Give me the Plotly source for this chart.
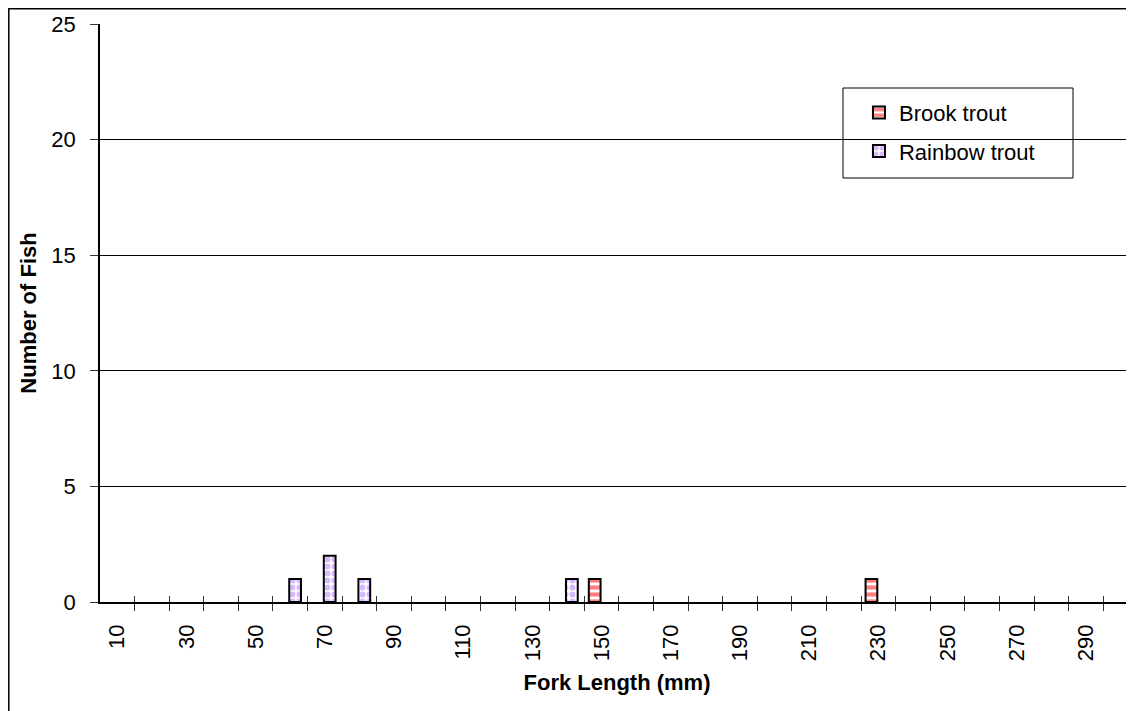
import plotly.graph_objects as go

# fork length classes (mm) and counts per species
brook_length = [150, 230]
brook_count = [1, 1]
rainbow_length = [60, 70, 80, 140]
rainbow_count = [1, 2, 1, 1]

tick_labels = [10, 30, 50, 70, 90, 110, 130, 150, 170, 190, 210, 230, 250, 270, 290]
class_edges = [15 + 10 * i for i in range(29)]
y_ticks = [0, 5, 10, 15, 20, 25]

FONT = "Liberation Sans, Arial, sans-serif"
TICK_COLOR = "#333"

fig = go.Figure()
fig.add_trace(go.Bar(
    x=brook_length, y=brook_count, name="Brook trout",
    legendgroup="a", width=3.4, offset=-3.7,
    marker=dict(color="white", line=dict(color="black", width=2),
                pattern=dict(shape="-", fgcolor="#ff0000", bgcolor="white",
                             size=7, solidity=0.6)),
))
fig.add_trace(go.Bar(
    x=rainbow_length, y=rainbow_count, name="Rainbow trout",
    legendgroup="b", width=3.4, offset=-0.3, xaxis="x2",
    marker=dict(color="white", line=dict(color="black", width=2),
                pattern=dict(shape=".", fgcolor="#b070ff", bgcolor="white",
                             size=7, solidity=0.55)),
))

x_range = [5, 303.9]

# the page body has an 8px margin, so the figure is sized to fit the window
fig.update_layout(
    width=1126, height=703,
    margin=dict(l=92, r=0, t=16, b=109),
    paper_bgcolor="white", plot_bgcolor="white",
    barmode="overlay",
    font=dict(family=FONT, size=22, color="black"),
    xaxis=dict(
        range=x_range, tickmode="array", tickvals=tick_labels,
        ticktext=[str(v) for v in tick_labels], tickangle=-90,
        ticks="", ticklabelstandoff=12, showgrid=False, zeroline=False,
        showline=True, linecolor="black", linewidth=1.5,
        minor=dict(tickmode="array", tickvals=class_edges, ticks="outside",
                   ticklen=7, tickcolor=TICK_COLOR, tickwidth=1, showgrid=False),
        title=dict(text="<b>Fork Length (mm)</b>", font=dict(size=22), standoff=14),
    ),
    xaxis2=dict(
        overlaying="x", anchor="y", side="bottom", range=x_range,
        tickmode="array", tickvals=class_edges, ticks="inside", ticklen=6,
        tickcolor=TICK_COLOR, showticklabels=False, showgrid=False, zeroline=False,
        showline=False,
    ),
    yaxis=dict(
        range=[0, 25], tickmode="array", tickvals=y_ticks,
        ticks="outside", ticklen=8, tickcolor=TICK_COLOR, ticklabelstandoff=10,
        showgrid=True, gridcolor="black", gridwidth=1, zeroline=False,
        showline=True, linecolor="black", linewidth=1.5,
        title=dict(text="<b>Number of Fish</b>", font=dict(size=22), standoff=9),
    ),
    legend=dict(
        x=0.734, y=0.883, xanchor="left", yanchor="top",
        bgcolor="rgba(0,0,0,0)", borderwidth=0,
        font=dict(size=22), traceorder="grouped", tracegroupgap=7,
        itemwidth=30,
    ),
    shapes=[
        # legend frame
        dict(type="rect", xref="paper", yref="paper",
             x0=(843 - 100) / 1034, x1=(1073 - 100) / 1034,
             y0=(602 - 178) / 578, y1=(602 - 88) / 578,
             line=dict(color="black", width=1), fillcolor="white", layer="below"),
        # chart area border
        dict(type="rect", xref="paper", yref="paper",
             x0=(8.8 - 100) / 1034, x1=1.2,
             y0=-0.5, y1=(602 - 8.8) / 578,
             line=dict(color="black", width=1.5), fillcolor="rgba(0,0,0,0)"),
    ],
)

fig.write_html("out.html")
